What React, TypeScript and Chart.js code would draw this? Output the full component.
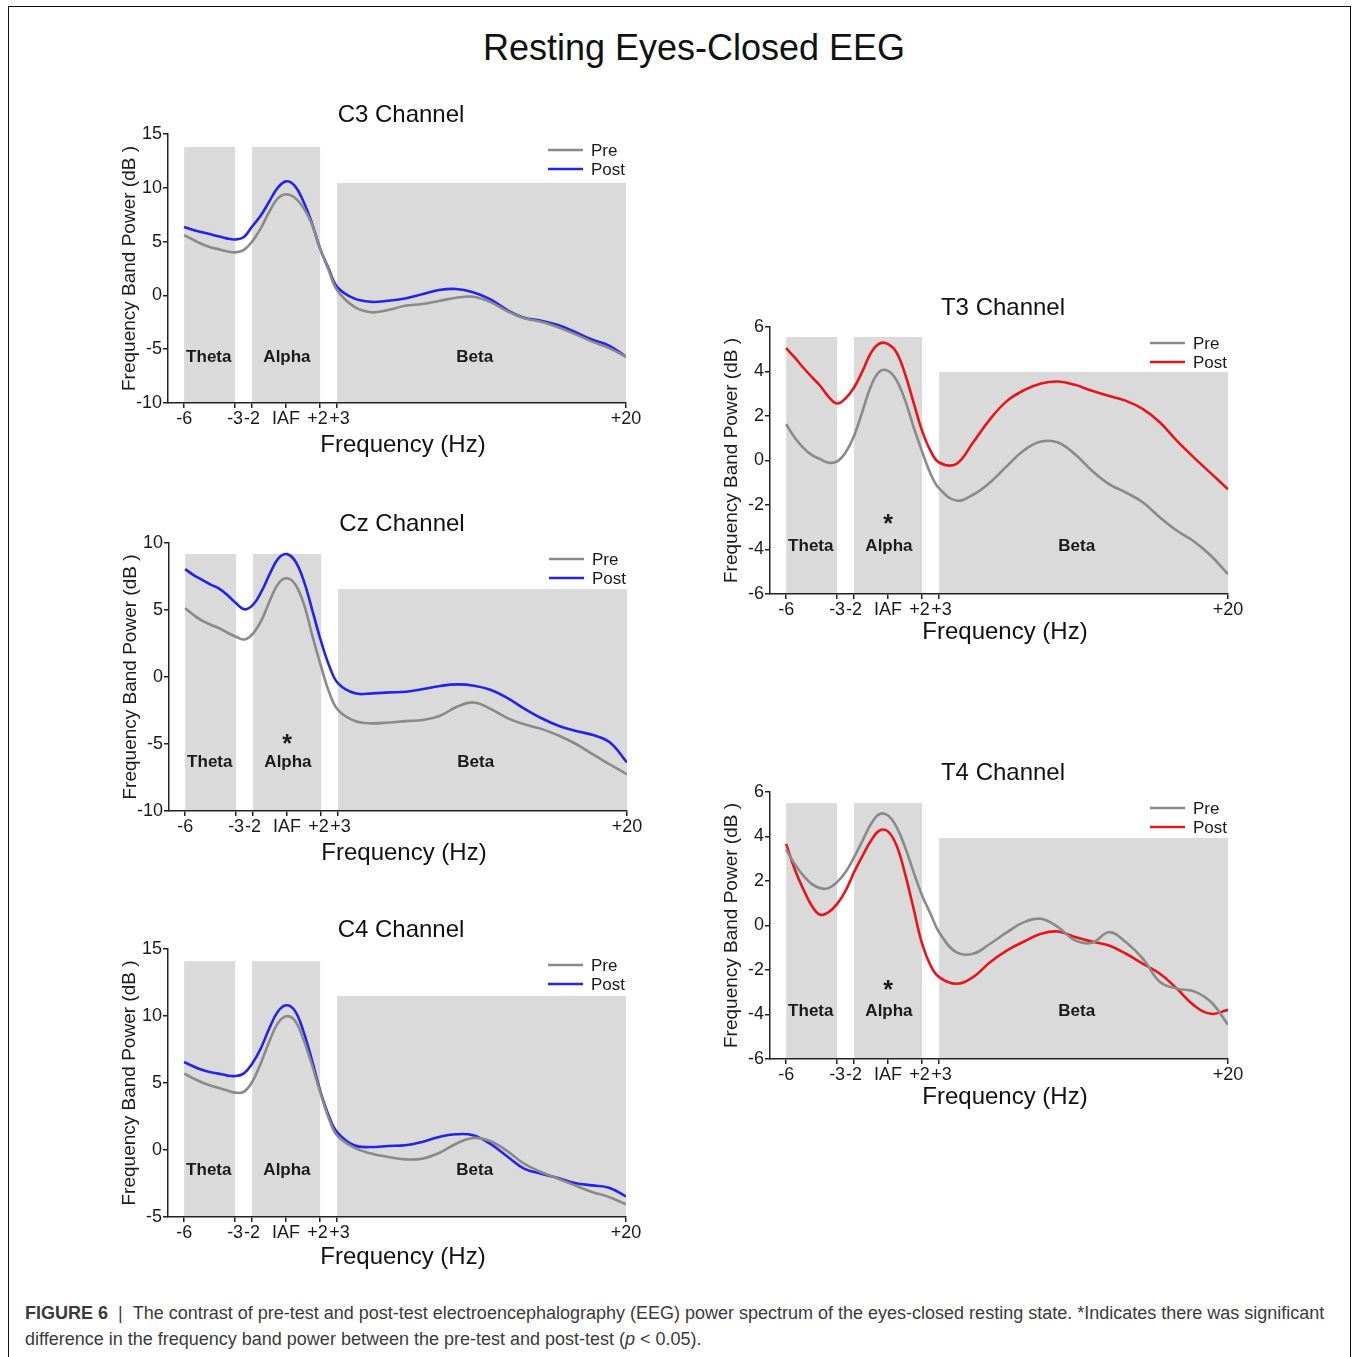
import React, { useEffect, useRef } from "react";
import { Chart, registerables } from "chart.js";

Chart.register(...registerables);

const FONT = '"Liberation Sans", Arial, Helvetica, sans-serif';
Chart.defaults.font.family = FONT;

// Frequency relative to the individual alpha frequency (IAF = 0), in Hz
const FREQ = [-6, -5.5, -5, -4.5, -4, -3.5, -3, -2.5, -2, -1.5, -1, -0.5, 0, 0.5, 1, 1.5, 2, 2.5, 3, 4, 5, 6, 7, 8, 9, 10, 11, 12, 13, 14, 15, 16, 17, 18, 19, 20];

const X_TICKS = [-6, -3, -2, 0, 2, 3, 20];
// padded so that neighbouring labels (+2/+3) do not collide
const X_TICK_LABELS = ["-6", "-3", "-2", "IAF", "+2 ", " +3", "+20"];
const X_MIN = -6.95;
const X_MAX = 20;

// Frequency band power (dB) per channel
const C3_PRE = [5.6, 5.2, 4.8, 4.5, 4.3, 4.1, 4.0, 4.2, 5.0, 6.2, 7.75, 9.0, 9.4, 9.1, 8.2, 6.7, 4.35, 2.35, 0.5, -1.05, -1.57, -1.36, -0.96, -0.8, -0.52, -0.22, -0.12, -0.6, -1.45, -2.13, -2.45, -2.96, -3.6, -4.3, -4.9, -5.7];
const C3_POST = [6.36, 6.1, 5.9, 5.7, 5.5, 5.3, 5.2, 5.4, 6.4, 7.4, 8.7, 10.0, 10.6, 10.2, 8.8, 6.8, 4.35, 2.5, 0.8, -0.28, -0.6, -0.5, -0.28, 0.1, 0.5, 0.6, 0.3, -0.35, -1.35, -2.07, -2.35, -2.75, -3.4, -4.1, -4.66, -5.7];

const CZ_PRE = [5.13, 4.63, 4.2, 3.9, 3.64, 3.3, 3.0, 2.8, 3.26, 4.26, 5.75, 7.0, 7.37, 6.87, 5.38, 3.0, 0.77, -1.22, -2.47, -3.29, -3.46, -3.39, -3.29, -3.21, -2.89, -2.22, -1.9, -2.4, -3.09, -3.54, -3.89, -4.38, -5.0, -5.78, -6.53, -7.27];
const CZ_POST = [8.05, 7.6, 7.25, 6.9, 6.6, 6.1, 5.5, 5.05, 5.4, 6.4, 7.75, 8.87, 9.17, 8.6, 7.1, 4.9, 2.65, 0.77, -0.47, -1.22, -1.22, -1.15, -1.1, -0.9, -0.67, -0.55, -0.65, -0.97, -1.6, -2.4, -3.1, -3.65, -4.03, -4.33, -4.88, -6.38];

const C4_PRE = [5.7, 5.37, 5.07, 4.83, 4.65, 4.45, 4.28, 4.33, 5.07, 6.44, 8.06, 9.43, 9.98, 9.68, 8.31, 6.44, 4.33, 2.41, 1.09, 0.17, -0.27, -0.52, -0.7, -0.65, -0.22, 0.47, 0.9, 0.67, -0.07, -1.02, -1.64, -2.14, -2.64, -3.13, -3.51, -4.05];
const C4_POST = [6.57, 6.27, 6.0, 5.82, 5.7, 5.57, 5.52, 5.7, 6.44, 7.56, 9.05, 10.3, 10.8, 10.42, 8.93, 6.8, 4.45, 2.6, 1.34, 0.35, 0.22, 0.3, 0.35, 0.6, 0.97, 1.17, 1.1, 0.47, -0.47, -1.39, -1.77, -2.09, -2.46, -2.64, -2.81, -3.46];

const T3_PRE = [1.63, 1.03, 0.58, 0.25, 0.06, -0.1, -0.04, 0.36, 1.11, 2.23, 3.36, 4.0, 4.03, 3.6, 2.7, 1.5, 0.4, -0.6, -1.25, -1.8, -1.54, -0.99, -0.24, 0.46, 0.85, 0.81, 0.28, -0.46, -1.06, -1.44, -1.89, -2.56, -3.16, -3.64, -4.28, -5.11];
const T3_POST = [5.05, 4.63, 4.18, 3.76, 3.36, 2.86, 2.56, 2.8, 3.28, 4.03, 4.85, 5.26, 5.23, 4.85, 3.88, 2.6, 1.33, 0.43, -0.09, -0.16, 0.81, 1.86, 2.68, 3.16, 3.46, 3.55, 3.4, 3.13, 2.9, 2.68, 2.31, 1.71, 0.88, 0.13, -0.58, -1.29];

const T4_PRE = [3.41, 2.77, 2.25, 1.87, 1.68, 1.68, 1.95, 2.4, 3.07, 3.82, 4.57, 5.01, 4.94, 4.42, 3.52, 2.4, 1.35, 0.52, -0.3, -1.2, -1.27, -0.82, -0.3, 0.15, 0.3, -0.07, -0.67, -0.78, -0.3, -0.75, -1.5, -2.54, -2.84, -2.96, -3.44, -4.46];
const T4_POST = [3.67, 2.54, 1.65, 0.9, 0.48, 0.6, 0.97, 1.57, 2.4, 3.14, 3.82, 4.27, 4.22, 3.59, 2.32, 0.75, -0.82, -1.8, -2.32, -2.62, -2.32, -1.65, -1.12, -0.72, -0.37, -0.27, -0.52, -0.72, -0.9, -1.27, -1.72, -2.17, -2.84, -3.59, -3.97, -3.79];

// Frequency bands (Hz relative to IAF) and where their names sit
const BAND_NAMES = ["Theta", "Alpha", "Beta"];
const BAND_FROM = [-6, -2, 3];
const BAND_TO = [-3, 2, 20];
const BAND_LABEL_X = [-4.55, 0.05, 11.1];

const PRE_COLOR = "#8a8a8a";
const BLUE = "#2424e8";
const RED = "#e8141c";
const BAND_FILL = "#dadada";
const INK = "#1a1a1a";

type Panel = {
  title: string;
  pre: number[];
  post: number[];
  postColor: string;
  yMin: number;
  yMax: number;
  yStep: number;
  bandTop: number;
  betaTop: number;
  labelY: number;
  starY: number | null;
  left: number;
  top: number;
  width: number;
  height: number;
  xTitleGap: number;
};

const PANELS: Panel[] = [
  { title: "C3 Channel", pre: C3_PRE, post: C3_POST, postColor: BLUE, yMin: -10, yMax: 15, yStep: 5, bandTop: 13.79, betaTop: 10.45, labelY: -5.8, starY: null, left: 168, top: 134, width: 458, height: 269, xTitleGap: 42 },
  { title: "Cz Channel", pre: CZ_PRE, post: CZ_POST, postColor: BLUE, yMin: -10, yMax: 10, yStep: 5, bandTop: 9.18, betaTop: 6.57, labelY: -6.34, starY: -4.55, left: 169, top: 543, width: 458, height: 268, xTitleGap: 42 },
  { title: "C4 Channel", pre: C4_PRE, post: C4_POST, postColor: BLUE, yMin: -5, yMax: 15, yStep: 5, bandTop: 14.1, betaTop: 11.5, labelY: -1.49, starY: null, left: 168, top: 949, width: 458, height: 268, xTitleGap: 40 },
  { title: "T3 Channel", pre: T3_PRE, post: T3_POST, postColor: RED, yMin: -6, yMax: 6, yStep: 2, bandTop: 5.55, betaTop: 3.98, labelY: -3.84, starY: -2.58, left: 770, top: 327, width: 458, height: 267, xTitleGap: 38 },
  { title: "T4 Channel", pre: T4_PRE, post: T4_POST, postColor: RED, yMin: -6, yMax: 6, yStep: 2, bandTop: 5.5, betaTop: 3.93, labelY: -3.84, starY: -2.63, left: 770, top: 792, width: 458, height: 267, xTitleGap: 38 },
];

const PAD_L = 70;
const PAD_T = 50;
const PAD_R = 40;
const PAD_B = 70;

function decorPlugin(p: Panel) {
  return {
    id: "eegDecor",
    beforeDraw(chart: any) {
      const { ctx, chartArea: a, scales } = chart;
      const x = scales.x;
      const y = scales.y;
      ctx.save();
      ctx.fillStyle = BAND_FILL;
      BAND_NAMES.forEach((name, i) => {
        const top = name === "Beta" ? p.betaTop : p.bandTop;
        const x0 = x.getPixelForValue(BAND_FROM[i]);
        const x1 = x.getPixelForValue(BAND_TO[i]);
        const y0 = y.getPixelForValue(top);
        ctx.fillRect(x0, y0, x1 - x0, a.bottom - y0);
      });
      ctx.restore();
    },
    afterDraw(chart: any) {
      const { ctx, chartArea: a, scales } = chart;
      const x = scales.x;
      const y = scales.y;
      ctx.save();

      // band names
      ctx.fillStyle = INK;
      ctx.textAlign = "center";
      ctx.textBaseline = "middle";
      ctx.font = `bold 17px ${FONT}`;
      BAND_NAMES.forEach((name, i) => {
        ctx.fillText(name, x.getPixelForValue(BAND_LABEL_X[i]), y.getPixelForValue(p.labelY));
      });

      // significance marker
      if (p.starY !== null) {
        ctx.font = `bold 25px ${FONT}`;
        ctx.textBaseline = "alphabetic";
        ctx.fillText("*", x.getPixelForValue(0), y.getPixelForValue(p.starY) + 14);
      }

      // panel title and x-axis title
      const cx = (a.left + a.right) / 2;
      ctx.textBaseline = "middle";
      ctx.font = `24px ${FONT}`;
      ctx.fillStyle = "#111";
      ctx.fillText(p.title, cx + 4, a.top - 19);
      ctx.fillText("Frequency (Hz)", cx + 6, a.bottom + p.xTitleGap);

      // legend
      const rows = [
        { label: "Pre", color: PRE_COLOR },
        { label: "Post", color: p.postColor },
      ];
      ctx.font = `17px ${FONT}`;
      ctx.textAlign = "left";
      rows.forEach((r, i) => {
        const yy = a.top + 16 + i * 19;
        ctx.strokeStyle = r.color;
        ctx.lineWidth = 2.5;
        ctx.beginPath();
        ctx.moveTo(a.right - 78, yy);
        ctx.lineTo(a.right - 43, yy);
        ctx.stroke();
        ctx.fillStyle = INK;
        ctx.fillText(r.label, a.right - 35, yy + 1);
      });
      ctx.restore();
    },
  };
}

function PanelChart({ p }: { p: Panel }) {
  const ref = useRef<HTMLCanvasElement | null>(null);
  const w = p.width + PAD_L + PAD_R;
  const h = p.height + PAD_T + PAD_B;

  useEffect(() => {
    if (!ref.current) return;
    const axisLine = { display: true, color: "#222", width: 1.5 };
    const tickGrid = { display: true, drawOnChartArea: false, drawTicks: true, tickLength: 5, color: "#222", lineWidth: 1.5 };
    const line = (label: string, values: number[], color: string) => ({
      label,
      data: FREQ.map((f, i) => ({ x: f, y: values[i] })),
      borderColor: color,
      borderWidth: 2.6,
      pointRadius: 0,
      tension: 0.4,
      fill: false,
    });
    const chart = new Chart(ref.current, {
      type: "line",
      data: {
        datasets: [line("Pre", p.pre, PRE_COLOR), line("Post", p.post, p.postColor)],
      },
      options: {
        responsive: false,
        animation: false,
        events: [],
        layout: { padding: { left: 0, top: PAD_T, right: PAD_R, bottom: 0 } },
        plugins: { legend: { display: false }, title: { display: false }, tooltip: { enabled: false } },
        scales: {
          x: {
            type: "linear",
            min: X_MIN,
            max: X_MAX,
            afterFit: (s: any) => {
              s.height = PAD_B;
            },
            afterBuildTicks: (s: any) => {
              s.ticks = X_TICKS.map((v) => ({ value: v }));
            },
            ticks: {
              autoSkip: false,
              maxRotation: 0,
              minRotation: 0,
              padding: 0,
              color: INK,
              font: { size: 18 },
              callback: (v: any) => {
                const k = X_TICKS.indexOf(Number(v));
                return k >= 0 ? X_TICK_LABELS[k] : "";
              },
            },
            grid: tickGrid,
            border: axisLine,
          },
          y: {
            type: "linear",
            min: p.yMin,
            max: p.yMax,
            afterFit: (s: any) => {
              s.width = PAD_L;
            },
            ticks: { stepSize: p.yStep, padding: 1, color: INK, font: { size: 18 } },
            grid: tickGrid,
            border: axisLine,
            title: {
              display: true,
              text: "Frequency Band Power (dB )",
              color: INK,
              font: { size: 19 },
              padding: { top: 20, bottom: 0 },
            },
          },
        },
      } as any,
      plugins: [decorPlugin(p)],
    });
    return () => chart.destroy();
  }, [p]);

  return (
    <canvas
      ref={ref}
      width={w}
      height={h}
      style={{ position: "absolute", left: p.left - PAD_L, top: p.top - PAD_T, width: w, height: h }}
    />
  );
}

export default function App() {
  return (
    <div
      style={{
        position: "absolute",
        left: 0,
        top: 0,
        width: 1354,
        height: 1357,
        overflow: "hidden",
        background: "#fff",
        fontFamily: FONT,
      }}
    >
      <div
        style={{
          position: "absolute",
          left: 8,
          top: 6,
          width: 1343,
          height: 1420,
          border: "1.2px solid #111",
          boxSizing: "border-box",
        }}
      />
      <div
        style={{
          position: "absolute",
          left: 0,
          width: 1388,
          top: 28,
          lineHeight: "40px",
          fontSize: 36,
          textAlign: "center",
          color: "#111",
        }}
      >
        Resting Eyes-Closed EEG
      </div>
      {PANELS.map((p) => (
        <PanelChart key={p.title} p={p} />
      ))}
      <div
        style={{
          position: "absolute",
          left: 25,
          top: 1300,
          fontSize: 18,
          lineHeight: "26px",
          color: "#3a3a3a",
          whiteSpace: "nowrap",
        }}
      >
        <b>FIGURE 6</b>
        {"\u00a0\u00a0|\u00a0\u00a0"}The contrast of pre-test and post-test electroencephalography (EEG) power spectrum of the eyes-closed resting state. *Indicates there was significant
        <br />
        difference in the frequency band power between the pre-test and post-test (<i>p</i> &lt; 0.05).
      </div>
    </div>
  );
}
